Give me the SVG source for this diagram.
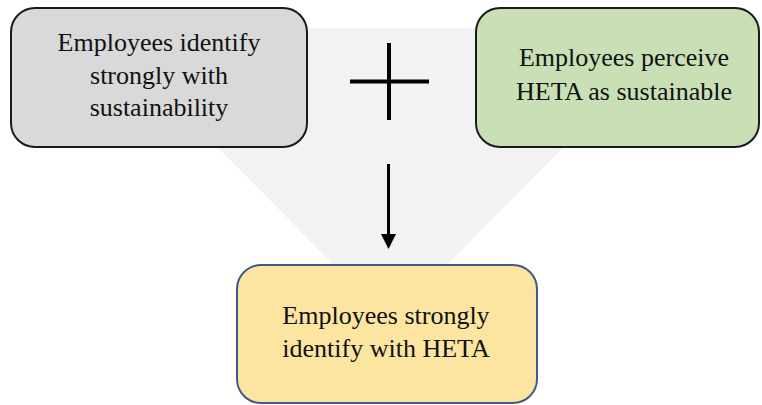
<svg xmlns="http://www.w3.org/2000/svg" width="762" height="405" viewBox="0 0 762 405">
  <style>
    .lbl { font-family: "Liberation Serif", "Times New Roman", serif; font-size: 26px; fill: #111; text-anchor: middle; }
    .box { stroke-width: 2; }
  </style>
  <defs>
    <marker id="arrowhead" markerWidth="5" markerHeight="5" refX="0" refY="2.5" orient="auto" markerUnits="strokeWidth">
      <path d="M0,0 L5,2.5 L0,5 Z" fill="#000"/>
    </marker>
  </defs>
  <rect width="762" height="405" fill="#fff"/>
  <!-- background funnel -->
  <polygon points="100,28 682,28 390,322" fill="#f2f2f2"/>

  <g id="node-identify-sustainability">
    <rect class="box" x="11" y="8" width="296" height="139" rx="24" fill="#d9d9d9" stroke="#1a1a1a"/>
    <text class="lbl" x="159" y="51">Employees identify</text>
    <text class="lbl" x="159" y="84">strongly with</text>
    <text class="lbl" x="159" y="116">sustainability</text>
  </g>

  <g id="node-perceive-heta">
    <rect class="box" x="476" y="8" width="283" height="139" rx="24" fill="#c9dfb6" stroke="#1a1a1a"/>
    <text class="lbl" x="624" y="66">Employees perceive</text>
    <text class="lbl" x="624" y="99.5">HETA as sustainable</text>
  </g>

  <g id="node-identify-heta">
    <rect class="box" x="237" y="265" width="300" height="138" rx="24" fill="#fbe5a0" stroke="#3f5a8c"/>
    <text class="lbl" x="386" y="324">Employees strongly</text>
    <text class="lbl" x="386" y="357">identify with HETA</text>
  </g>

  <g id="connectors">
    <!-- plus sign -->
    <line x1="350" y1="81.5" x2="429" y2="81.5" stroke="#000" stroke-width="4"/>
    <line x1="389" y1="43" x2="389" y2="120" stroke="#000" stroke-width="4"/>
    <!-- arrow -->
    <line x1="388.5" y1="164" x2="388.5" y2="234" stroke="#000" stroke-width="3" marker-end="url(#arrowhead)"/>
  </g>
</svg>
